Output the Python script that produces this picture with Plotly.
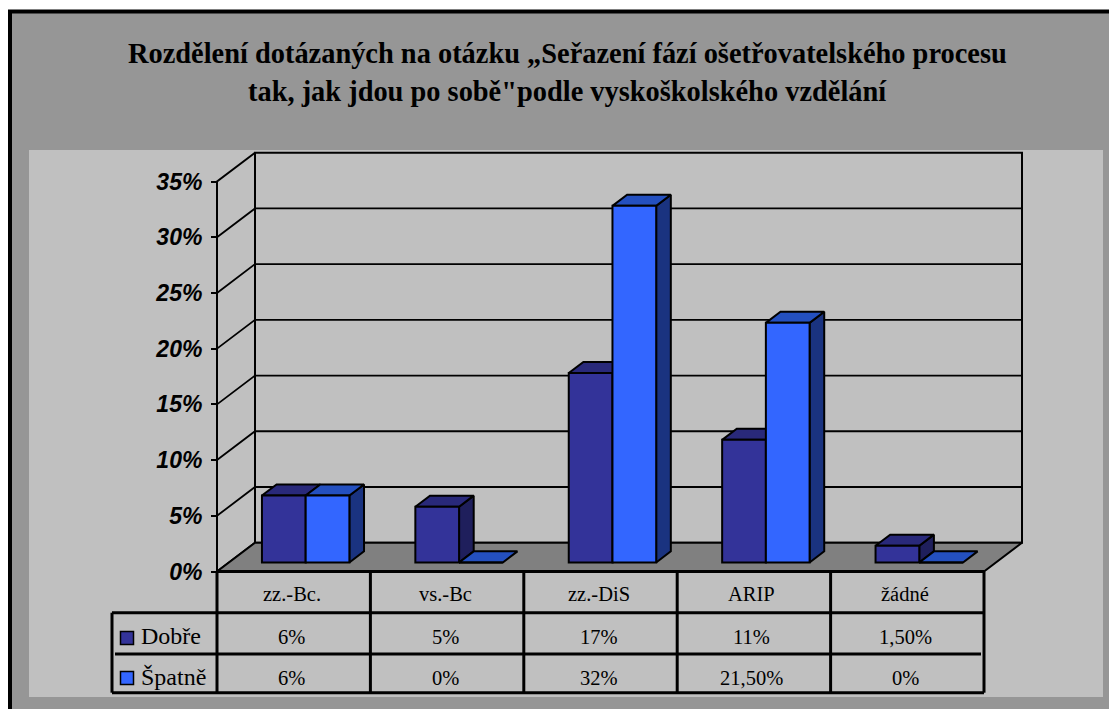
import plotly.graph_objects as go

categories = ["zz.-Bc.", "vs.-Bc", "zz.-DiS", "ARIP", "žádné"]
dobre = [6, 5, 17, 11, 1.5]
spatne = [6, 0, 32, 21.5, 0]
dobre_labels = ["6%", "5%", "17%", "11%", "1,50%"]
spatne_labels = ["6%", "0%", "32%", "21,50%", "0%"]
series_names = ["Dobře", "Špatně"]
y_ticks = [0, 5, 10, 15, 20, 25, 30, 35]
title_lines = ["Rozdělení dotázaných na otázku „Seřazení fází ošetřovatelského procesu",
               "tak, jak jdou po sobě\"podle vyskoškolského vzdělání"]

W, H = 1109, 709
FL, FR, FB, FT = 217, 984, 571.5, 181.5      # front plane in pixels
CW = (FR - FL) / 5
KY = (FB - FT) / 35
DX, DY = 38 / CW, 28.8 / KY                  # wall depth in axis units
BAR_W = 0.285
D_FRONT, D_BACK = 0.315, 0.70

def px(x): return x / W
def py(y): return 1 - y / H

fig = go.Figure()

def proj(x, v, d):
    return x + d * DX, v + d * DY

def poly(points, fill, width=2):
    xs = [p[0] for p in points]
    ys = [p[1] for p in points]
    fig.add_trace(go.Scatter(x=xs, y=ys, mode="lines", fill="toself" if fill else None,
                             fillcolor=fill, line=dict(color="black", width=width),
                             hoverinfo="skip", showlegend=False))

n = len(categories)
top = y_ticks[-1]
# walls
poly([proj(0, 0, 1), proj(n, 0, 1), proj(n, top, 1), proj(0, top, 1), proj(0, 0, 1)], "#C0C0C0")
poly([proj(0, 0, 0), proj(0, 0, 1), proj(0, top, 1), proj(0, top, 0), proj(0, 0, 0)], "#C0C0C0")
# floor
poly([proj(0, 0, 0), proj(n, 0, 0), proj(n, 0, 1), proj(0, 0, 1), proj(0, 0, 0)], "#808080")
# grid lines on walls
for t in y_ticks[1:-1]:
    poly([proj(0, t, 0), proj(0, t, 1), proj(n, t, 1)], None, 1.8)

COL = {0: ("#333399", "#1F1F5C", "#29297A"), 1: ("#3366FF", "#1A3380", "#2450BF")}
centres = [i + 0.5 for i in range(n)]
for s, vals in enumerate([dobre, spatne]):
    front, side, topc = COL[s]
    for c, v in zip(centres, vals):
        x0 = c + (s - 1) * BAR_W
        x1 = x0 + BAR_W
        if v > 0:
            poly([proj(x1, 0, D_FRONT), proj(x1, 0, D_BACK), proj(x1, v, D_BACK), proj(x1, v, D_FRONT), proj(x1, 0, D_FRONT)], side)
        poly([proj(x0, v, D_FRONT), proj(x1, v, D_FRONT), proj(x1, v, D_BACK), proj(x0, v, D_BACK), proj(x0, v, D_FRONT)], topc)

# front faces as real bars on an overlay axis pair
for s, vals in enumerate([dobre, spatne]):
    fig.add_trace(go.Bar(x=[c + (s - 0.5) * BAR_W + D_FRONT * DX for c in centres],
                         y=vals, base=[D_FRONT * DY] * n, width=BAR_W,
                         marker=dict(color=COL[s][0], line=dict(color="black", width=2)),
                         name=series_names[s], xaxis="x2", yaxis="y2", showlegend=False))

x_range = [-FL / CW, (W - FL) / CW]
y_range = [-(H - FB) / KY, FB / KY]
fig.update_layout(
    width=W, height=H, autosize=False,
    margin=dict(l=0, r=0, t=0, b=0, pad=0, autoexpand=False),
    paper_bgcolor="white", plot_bgcolor="rgba(0,0,0,0)", barmode="overlay", showlegend=False,
    xaxis=dict(domain=[0, 1], range=x_range, visible=False, fixedrange=True),
    yaxis=dict(domain=[0, 1], range=y_range, visible=False, fixedrange=True),
    xaxis2=dict(range=x_range, visible=False, overlaying="x", fixedrange=True),
    yaxis2=dict(range=y_range, overlaying="y", anchor="free", position=px(FL), side="left",
                tickmode="array", tickvals=y_ticks, ticktext=[f"{t}%" for t in y_ticks],
                ticks="outside", ticklen=6, tickwidth=1.8, tickcolor="black",
                showgrid=False, zeroline=False, showline=False, ticklabelstandoff=4,
                tickfont=dict(family="Liberation Sans", size=23, color="black", weight="bold", style="italic"),
                fixedrange=True),
)

shapes = [
    dict(type="rect", xref="paper", yref="paper", x0=px(10), x1=px(W + 10), y0=py(H + 10), y1=py(11.5),
         fillcolor="#969696", line=dict(color="black", width=4), layer="below"),
    dict(type="rect", xref="paper", yref="paper", x0=px(29), x1=px(1103), y0=py(697), y1=py(150),
         fillcolor="#C0C0C0", line=dict(width=0), layer="below"),
]
def tline(x0, y0, x1, y1):
    shapes.append(dict(type="line", xref="paper", yref="paper", x0=px(x0), x1=px(x1), y0=py(y0), y1=py(y1),
                       line=dict(color="black", width=3)))
ROW = [571.5, 612.7, 654, 692.7]
tline(FL, ROW[0], FR, ROW[0])
tline(112, ROW[1], FR, ROW[1])
tline(115, ROW[2], 981, ROW[2])
tline(112, ROW[3], FR, ROW[3])
tline(112, ROW[1], 112, ROW[3])
for i in range(n + 1):
    tline(FL + i * CW, ROW[0], FL + i * CW, ROW[3])
for s, yc in enumerate([638, 678]):
    shapes.append(dict(type="rect", xref="paper", yref="paper", x0=px(120.5), x1=px(133.5), y0=py(yc + 6.5), y1=py(yc - 6.5),
                       fillcolor=COL[s][0], line=dict(color="black", width=1.5)))
fig.update_layout(shapes=shapes)

serif = "Liberation Serif"
anns = []
for line, yc in zip(title_lines, [54, 91]):
    anns.append(dict(text=f"<b>{line}</b>", xref="paper", yref="paper", x=px(567), y=py(yc), showarrow=False,
                     font=dict(family=serif, size=28.4, color="black"), xanchor="center", yanchor="middle"))
for i in range(n):
    for text, yc in [(categories[i], 594), (dobre_labels[i], 637), (spatne_labels[i], 678)]:
        anns.append(dict(text=text, xref="x", yref="paper", x=i + 0.5 - 2 / CW, y=py(yc), showarrow=False,
                         font=dict(family=serif, size=20.5, color="black"), xanchor="center", yanchor="middle"))
for name, yc in zip(series_names, [636, 677]):
    anns.append(dict(text=name, xref="paper", yref="paper", x=px(139), y=py(yc), showarrow=False,
                     font=dict(family=serif, size=24, color="black"), xanchor="left", yanchor="middle"))
fig.update_layout(annotations=anns)

fig.write_html("out.html", config={"displayModeBar": False},
               post_script="document.body.style.margin='0';document.body.style.overflow='hidden';")
